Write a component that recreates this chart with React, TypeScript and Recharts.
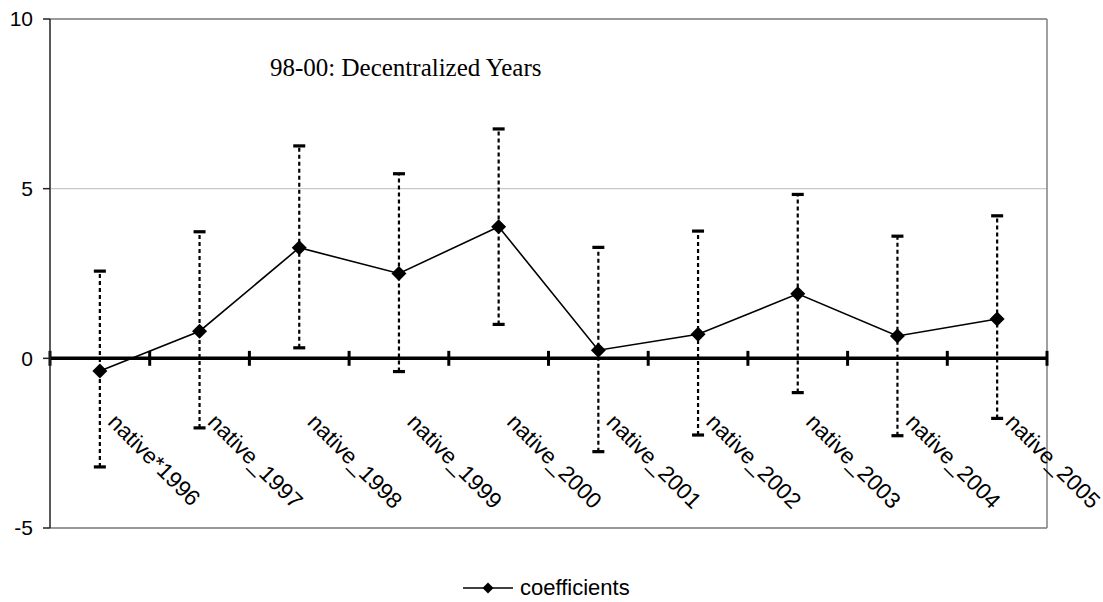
import React from 'react';
import {
  ComposedChart,
  Line,
  XAxis,
  YAxis,
  CartesianGrid,
  ReferenceLine,
  ErrorBar,
  Scatter,
  LabelList,
  Legend,
  Customized,
} from 'recharts';

const categories = [
  'native*1996',
  'native_1997',
  'native_1998',
  'native_1999',
  'native_2000',
  'native_2001',
  'native_2002',
  'native_2003',
  'native_2004',
  'native_2005',
];
const coefficients = [-0.37, 0.8, 3.26, 2.5, 3.88, 0.24, 0.71, 1.9, 0.66, 1.16];
const upper = [2.57, 3.73, 6.26, 5.44, 6.76, 3.27, 3.75, 4.83, 3.6, 4.2];
const lower = [-3.2, -2.05, 0.31, -0.39, 1.0, -2.75, -2.26, -1.01, -2.28, -1.77];
const yTicks = [-5, 0, 5, 10];
const titleText = '98-00: Decentralized Years';
const seriesName = 'coefficients';

const data = categories.map((c, i) => ({
  x: i,
  label: c,
  coef: coefficients[i],
  high: upper[i],
  low: lower[i],
  err: [coefficients[i] - lower[i], upper[i] - coefficients[i]],
}));

const boundaries = [...categories.map((_, i) => i - 0.5), categories.length - 0.5];

const SANS = '"Liberation Sans", Arial, sans-serif';
const SERIF = '"Liberation Serif", "Times New Roman", serif';

const Diamond = (props: any) => {
  const { cx, cy } = props;
  if (cx == null || cy == null) return null;
  const s = 7.5;
  return (
    <path
      d={`M${cx} ${cy - s} L${cx + s} ${cy} L${cx} ${cy + s} L${cx - s} ${cy} Z`}
      fill="#000"
      stroke="none"
    />
  );
};

const Cap = (props: any) => {
  const { cx, cy } = props;
  if (cx == null || cy == null) return null;
  return <rect x={cx - 6} y={cy - 1.6} width={12} height={3.2} fill="#000" />;
};

const CatLabel = (props: any) => {
  const { x, y, value } = props;
  const ax = x + 7;
  const ay = y + 65;
  return (
    <text
      x={ax}
      y={ay}
      transform={`rotate(45 ${ax} ${ay})`}
      fontSize={22.5}
      fontFamily={SANS}
      fill="#000"
    >
      {value}
    </text>
  );
};

const Title = () => (
  <text x={270} y={75.5} fontSize={25} fontFamily={SERIF} fill="#000">
    {titleText}
  </text>
);

const LegendContent = () => (
  <div style={{ display: 'flex', alignItems: 'center', height: 28 }}>
    <svg width={50} height={16} style={{ display: 'block' }}>
      <line x1={0} y1={8} x2={50} y2={8} stroke="#000" strokeWidth={1.5} />
      <path d="M25 2.5 L30.5 8 L25 13.5 L19.5 8 Z" fill="#000" />
    </svg>
    <span style={{ marginLeft: 7, fontSize: 22, fontFamily: SANS, color: '#000', lineHeight: '28px' }}>
      {seriesName}
    </span>
  </div>
);

export default function App() {
  return (
    <div style={{ position: 'absolute', left: 0, top: 0, background: '#fff' }}>
      <ComposedChart
        width={1103}
        height={602}
        data={data}
        margin={{ top: 19, right: 56, bottom: 46, left: 0 }}
      >
        <CartesianGrid vertical={false} stroke="#c8c8c8" strokeWidth={1.2} />
        <XAxis type="number" dataKey="x" domain={[-0.5, 9.5]} hide height={0} />
        <YAxis
          type="number"
          domain={[-5, 10]}
          ticks={yTicks}
          width={50}
          axisLine={{ stroke: '#222', strokeWidth: 1.5 }}
          tickLine={{ stroke: '#222', strokeWidth: 1.5 }}
          tickSize={7}
          tickMargin={10}
          tick={{ fontSize: 21, fill: '#000', fontFamily: SANS }}
        />
        <ReferenceLine y={10} stroke="#808080" strokeWidth={1.5} />
        <ReferenceLine y={-5} stroke="#808080" strokeWidth={1.5} />
        <ReferenceLine x={9.5} stroke="#808080" strokeWidth={1.5} />
        <ReferenceLine y={0} stroke="#000" strokeWidth={3.5} />
        {boundaries.map((b) => (
          <ReferenceLine
            key={`t${b}`}
            segment={[
              { x: b, y: -0.22 },
              { x: b, y: 0.22 },
            ]}
            stroke="#000"
            strokeWidth={3}
          />
        ))}
        <Customized component={Title} />
        <Line
          dataKey={() => 0}
          stroke="none"
          dot={false}
          activeDot={false}
          legendType="none"
          isAnimationActive={false}
        >
          <LabelList dataKey="label" content={CatLabel} />
        </Line>
        <Line
          dataKey="coef"
          name={seriesName}
          stroke="#000"
          strokeWidth={1.6}
          dot={<Diamond />}
          activeDot={false}
          isAnimationActive={false}
        >
          <ErrorBar
            dataKey="err"
            width={0}
            stroke="#000"
            strokeWidth={2.2}
            strokeDasharray="4 3"
          />
        </Line>
        <Scatter dataKey="high" shape={<Cap />} isAnimationActive={false} legendType="none" />
        <Scatter dataKey="low" shape={<Cap />} isAnimationActive={false} legendType="none" />
        <Legend
          verticalAlign="bottom"
          height={28}
          wrapperStyle={{ left: 463, bottom: 0, width: 220 }}
          content={LegendContent}
        />
      </ComposedChart>
    </div>
  );
}
